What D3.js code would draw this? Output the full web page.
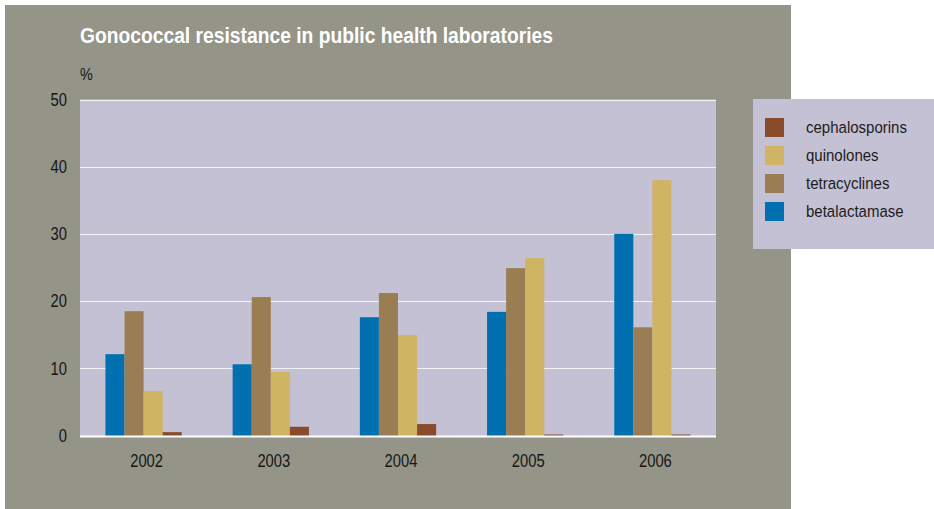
<!DOCTYPE html>
<html>
<head>
<meta charset="utf-8">
<script src="https://cdn.jsdelivr.net/npm/d3@7"></script>
<style>
  html, body { margin: 0; padding: 0; background: #ffffff; }
  svg { display: block; }
  text { font-family: "Liberation Sans", Arial, sans-serif; }
</style>
</head>
<body>
<svg id="chart" width="934" height="509"></svg>
<script>
// Resistance rates (%) by year and antibiotic class
const years = ["2002", "2003", "2004", "2005", "2006"];
const seriesNames = ["betalactamase", "tetracyclines", "quinolones", "cephalosporins"];
const betalactamase  = [12.1, 10.6, 17.6, 18.4, 30.0];
const tetracyclines  = [18.5, 20.6, 21.2, 24.9, 16.1];
const quinolones     = [6.6, 9.45, 14.95, 26.4, 38.0];
const cephalosporins = [0.5, 1.3, 1.7, 0.15, 0.15];
const yTicks = [0, 10, 20, 30, 40, 50];
const legendOrder = ["cephalosporins", "quinolones", "tetracyclines", "betalactamase"];

const values = { betalactamase, tetracyclines, quinolones, cephalosporins };
const colors = {
  betalactamase: "#0070b0",
  tetracyclines: "#9a7d52",
  quinolones: "#cfb463",
  cephalosporins: "#8a4b2b"
};

// narrow the sans face horizontally to get a condensed look
const condense = 0.82;

const svg = d3.select("#chart");

// outer panel
svg.append("rect").attr("x", 5).attr("y", 5).attr("width", 786).attr("height", 504).attr("fill", "#949588");

const plot = { left: 80, right: 716, top: 99.5, bottom: 435.5 };

svg.append("rect")
  .attr("x", plot.left).attr("y", plot.top)
  .attr("width", plot.right - plot.left).attr("height", plot.bottom - plot.top + 1)
  .attr("fill", "#c5c1d4");

const y = d3.scaleLinear().domain([0, 50]).range([plot.bottom, plot.top]);
const x0 = d3.scaleBand().domain(years).range([plot.left, plot.right]).paddingInner(0.4).paddingOuter(0.2);
const x1 = d3.scaleBand().domain(seriesNames).range([0, x0.bandwidth()]).padding(0);

// gridlines
svg.append("g")
  .selectAll("line").data(yTicks.filter(t => t > 0)).join("line")
  .attr("x1", plot.left).attr("x2", plot.right)
  .attr("y1", d => Math.round(y(d)) + 0.5).attr("y2", d => Math.round(y(d)) + 0.5)
  .attr("stroke", "#f4f3f8").attr("stroke-width", 1.2);

// bars
const groups = svg.append("g").selectAll("g").data(years).join("g")
  .attr("transform", d => `translate(${x0(d)},0)`);
groups.selectAll("rect")
  .data((yr, i) => seriesNames.map(s => ({ s, v: values[s][i] })))
  .join("rect")
  .attr("x", d => x1(d.s))
  .attr("width", x1.bandwidth())
  .attr("y", d => y(d.v))
  .attr("height", d => y(0) - y(d.v) + 0.5)
  .attr("fill", d => colors[d.s]);

// baseline
svg.append("line")
  .attr("x1", plot.left).attr("x2", plot.right)
  .attr("y1", plot.bottom + 1).attr("y2", plot.bottom + 1)
  .attr("stroke", "#ffffff").attr("stroke-width", 2);

// y axis labels
const yAxis = d3.axisLeft(y).tickValues(yTicks).tickSize(0).tickPadding(0).tickFormat(d3.format("d"));
const yg = svg.append("g").attr("transform", `translate(67,0)`).call(yAxis);
yg.select(".domain").remove();
yg.selectAll("text").attr("font-size", 18).attr("fill", "#161616")
  .attr("font-family", "'Liberation Sans', Arial, sans-serif")
  .attr("transform", `scale(${condense},1)`);

// x axis labels
const xAxis = d3.axisBottom(x0).tickSize(0).tickPadding(0);
const xg = svg.append("g").attr("transform", `translate(3,454)`).call(xAxis);
xg.select(".domain").remove();
xg.selectAll("text").attr("font-size", 18).attr("fill", "#161616").attr("dy", "0.71em")
  .attr("font-family", "'Liberation Sans', Arial, sans-serif")
  .attr("transform", `scale(${condense},1)`);

// title and unit
svg.append("text").attr("x", 80).attr("y", 43)
  .attr("font-size", 22).attr("font-weight", "bold").attr("fill", "#ffffff")
  .attr("textLength", 473).attr("lengthAdjust", "spacingAndGlyphs")
  .text("Gonococcal resistance in public health laboratories");
svg.append("text").attr("transform", "translate(80,80) scale(0.85,1)")
  .attr("font-size", 17).attr("fill", "#161616").text("%");

// legend
const lg = svg.append("g");
lg.append("rect").attr("x", 753).attr("y", 99).attr("width", 181).attr("height", 150).attr("fill", "#c5c1d4");
const items = lg.selectAll("g").data(legendOrder).join("g")
  .attr("transform", (d, i) => `translate(765,${118 + i * 28})`);
items.append("rect").attr("width", 19).attr("height", 19).attr("fill", d => colors[d]);
items.append("text").attr("transform", "translate(41,9.5) scale(0.91,1)").attr("dy", "0.35em")
  .attr("font-size", 16.5).attr("fill", "#1c1c1c").text(d => d);
</script>
</body>
</html>
